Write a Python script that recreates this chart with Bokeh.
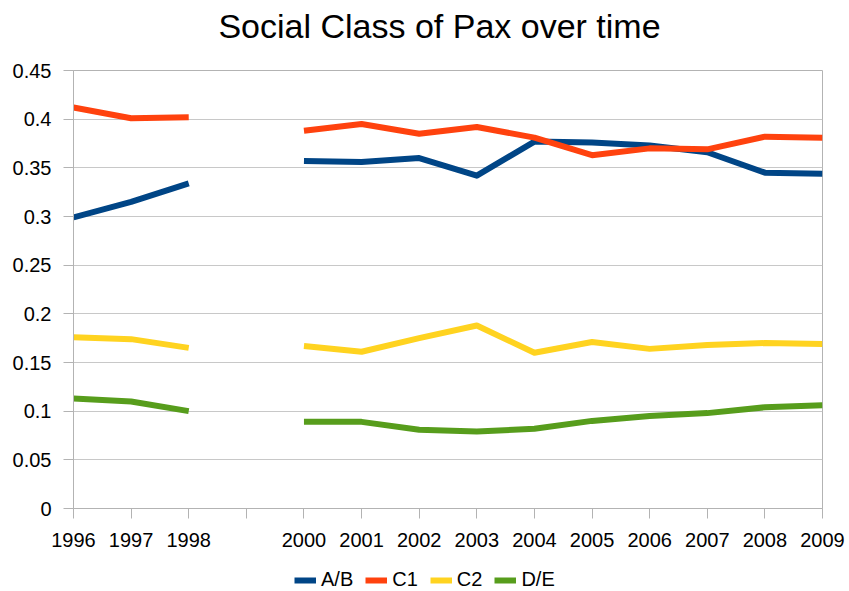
import math
from bokeh.plotting import figure
from bokeh.models import FixedTicker, Range1d, Label
from bokeh.layouts import column
from bokeh.embed import file_html
from bokeh.resources import INLINE

years = [1996, 1997, 1998, 1999, 2000, 2001, 2002, 2003, 2004, 2005, 2006, 2007, 2008, 2009]
nan = float("nan")
ab = [0.299, 0.315, 0.334, nan, 0.357, 0.356, 0.360, 0.342, 0.377, 0.376, 0.373, 0.366, 0.345, 0.344]
c1 = [0.412, 0.401, 0.402, nan, 0.388, 0.395, 0.385, 0.392, 0.381, 0.363, 0.370, 0.369, 0.382, 0.381]
c2 = [0.176, 0.174, 0.165, nan, 0.167, 0.161, 0.175, 0.188, 0.160, 0.171, 0.164, 0.168, 0.170, 0.169]
de = [0.113, 0.110, 0.100, nan, 0.089, 0.089, 0.081, 0.079, 0.082, 0.090, 0.095, 0.098, 0.104, 0.106]
series = [("A/B", ab, "#004586"), ("C1", c1, "#ff420e"), ("C2", c2, "#ffd320"), ("D/E", de, "#579d1c")]
y_ticks = [0, 0.05, 0.1, 0.15, 0.2, 0.25, 0.3, 0.35, 0.4, 0.45]
title_text = "Social Class of Pax over time"

FONT = "Liberation Sans"

def blank(h, yr=(0, 1)):
    f = figure(width=849, height=h, output_backend="svg", toolbar_location=None,
               x_range=Range1d(0, 1), y_range=Range1d(*yr),
               x_axis_type=None, y_axis_type=None, min_border=0)
    f.xgrid.visible = False
    f.ygrid.visible = False
    f.outline_line_color = None
    return f

# title strip
pt = blank(54)
pt.add_layout(Label(x=366, y=29, x_units="screen", y_units="screen", text=title_text,
                    text_font=FONT, text_font_size="34px", text_color="#000000",
                    text_align="center", text_baseline="middle"))

# main chart
p = figure(frame_width=749, frame_height=438, output_backend="svg", toolbar_location=None,
           x_range=Range1d(1996, 2009), y_range=Range1d(0, 0.45),
           min_border_left=73, min_border_right=27, min_border_top=16, min_border_bottom=55)

for name, vals, col in series:
    p.line(years, vals, line_color=col, line_width=6, line_join="round")

p.xgrid.visible = False
p.ygrid.grid_line_color = "#c8c8c8"
p.ygrid.grid_line_width = 1
p.ygrid.ticker = FixedTicker(ticks=y_ticks)

p.outline_line_color = "#b3b3b3"
p.outline_line_width = 1

p.xaxis.ticker = FixedTicker(ticks=years)
p.xaxis.major_label_overrides = {1999: ""}
p.yaxis.ticker = FixedTicker(ticks=y_ticks)
p.yaxis.major_label_overrides = {0: "0", 0.1: "0.1", 0.2: "0.2", 0.3: "0.3", 0.4: "0.4"}

for ax in (p.xaxis[0], p.yaxis[0]):
    ax.axis_line_color = "#b3b3b3"
    ax.major_tick_line_color = "#b3b3b3"
    ax.major_tick_in = 0
    ax.major_tick_out = 10
    ax.minor_tick_line_color = None
    ax.major_label_text_font = FONT
    ax.major_label_text_font_size = "20px"
    ax.major_label_text_color = "#000000"
p.xaxis.major_label_standoff = 14
p.yaxis.major_label_standoff = 12

# legend strip (series drawn out of view; only the legend shows)
pl = blank(28, yr=(10, 11))
for name, vals, col in series:
    pl.line(years, vals, line_color=col, line_width=6, legend_label=name)
lg = pl.legend[0]
lg.orientation = "horizontal"
lg.location = (221, 0)
lg.label_text_font = FONT
lg.label_text_font_size = "20px"
lg.label_text_color = "#000000"
lg.glyph_width = 22
lg.glyph_height = 12
lg.spacing = 12
lg.label_standoff = 5
lg.border_line_color = None
lg.background_fill_alpha = 0
lg.padding = 2
lg.margin = 0

layout = column(pt, p, pl, spacing=0)
open("out.html", "w").write(file_html(layout, INLINE))
